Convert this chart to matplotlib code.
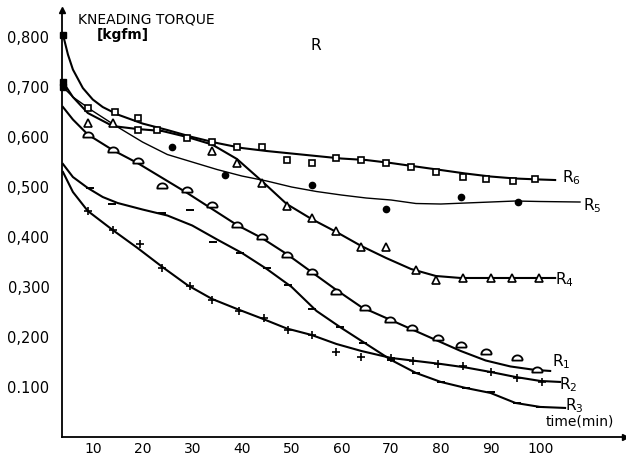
import numpy as np
import matplotlib
matplotlib.use("Agg")
import matplotlib.pyplot as plt

# torque curves (lines) and measured points (markers), time in min, torque in kgfm
r6_t = [4, 5, 6, 8, 10, 12, 15, 20, 25, 30, 35, 40, 45, 50, 55, 60, 65, 70, 75, 80, 85, 90, 95, 100, 103]
r6_v = [0.805, 0.765, 0.735, 0.698, 0.675, 0.66, 0.645, 0.627, 0.614, 0.60, 0.588, 0.578, 0.572, 0.567,
        0.562, 0.557, 0.554, 0.548, 0.541, 0.534, 0.527, 0.521, 0.517, 0.515, 0.514]
r6_pt_t = [9, 14.5, 19, 19, 23, 29, 34, 39, 44, 49, 54, 59, 64, 69, 74, 79, 84.5, 89, 94.5, 99]
r6_pt_v = [0.658, 0.65, 0.638, 0.614, 0.614, 0.598, 0.59, 0.58, 0.58, 0.554, 0.548, 0.558, 0.554,
           0.548, 0.54, 0.53, 0.52, 0.516, 0.512, 0.516]

r5_t = [4, 6, 10, 15, 20, 25, 30, 35, 40, 45, 50, 55, 60, 65, 70, 75, 80, 85, 90, 95, 100, 108]
r5_v = [0.70, 0.68, 0.652, 0.62, 0.59, 0.565, 0.55, 0.535, 0.522, 0.512, 0.50, 0.491, 0.484, 0.478,
        0.474, 0.467, 0.466, 0.468, 0.47, 0.472, 0.471, 0.47]
r5_pt_t = [26, 36.5, 54, 69, 84, 95.5]
r5_pt_v = [0.58, 0.524, 0.504, 0.457, 0.48, 0.47]

r4_t = [4, 6, 9, 14, 19, 24, 29, 34, 39, 44, 49, 54, 59, 64, 69, 74, 79, 84, 90, 95, 103]
r4_v = [0.71, 0.68, 0.648, 0.622, 0.616, 0.612, 0.60, 0.585, 0.556, 0.512, 0.466, 0.436, 0.41,
        0.382, 0.358, 0.336, 0.322, 0.318, 0.318, 0.318, 0.318]
r4_pt_t = [9, 14, 34, 39, 44, 49, 54, 59, 64, 69, 75, 79, 84.5, 90, 94.3, 99.8]
r4_pt_v = [0.628, 0.628, 0.572, 0.548, 0.508, 0.462, 0.438, 0.412, 0.38, 0.38, 0.334, 0.314,
           0.318, 0.318, 0.318, 0.318]

r1_t = [4, 6, 9, 14, 19, 24, 29, 34, 39, 44, 49, 54, 59, 64, 69, 74, 79, 84, 89, 94, 99, 102]
r1_v = [0.66, 0.635, 0.605, 0.574, 0.548, 0.518, 0.488, 0.456, 0.424, 0.398, 0.366, 0.33, 0.294,
        0.26, 0.238, 0.216, 0.194, 0.172, 0.153, 0.141, 0.134, 0.132]
r1_pt_t = [9, 14, 19, 24, 29, 34, 39, 44, 49, 54, 59, 64.7, 69.8, 74.3, 79.4, 84, 89, 95.3, 99.3]
r1_pt_v = [0.604, 0.574, 0.552, 0.502, 0.494, 0.464, 0.424, 0.40, 0.364, 0.33, 0.29, 0.258, 0.234,
           0.218, 0.198, 0.184, 0.17, 0.158, 0.134]

r2_t = [4, 6, 9, 14, 19, 24, 29, 34, 39, 44, 49, 54, 59, 64, 70, 75, 80, 85, 90, 95, 100, 104]
r2_v = [0.53, 0.49, 0.452, 0.414, 0.378, 0.34, 0.304, 0.276, 0.256, 0.237, 0.217, 0.204, 0.186,
        0.172, 0.158, 0.152, 0.146, 0.139, 0.13, 0.12, 0.112, 0.11]
r2_pt_t = [9, 14, 19.5, 24, 29.5, 34, 39.5, 44.5, 49.3, 54, 59, 64, 70, 74.4, 79.4, 84.5, 90, 95.3, 100.3]
r2_pt_v = [0.452, 0.414, 0.386, 0.338, 0.302, 0.274, 0.252, 0.238, 0.214, 0.204, 0.17, 0.16, 0.158,
           0.152, 0.146, 0.142, 0.13, 0.118, 0.11]

r3_t = [4, 6, 9, 12, 15, 20, 25, 30, 35, 40, 45, 50, 55, 60, 65, 70, 75, 80, 85, 90, 95, 100, 105]
r3_v = [0.546, 0.52, 0.498, 0.48, 0.468, 0.455, 0.443, 0.423, 0.395, 0.368, 0.336, 0.30, 0.252,
        0.218, 0.186, 0.154, 0.128, 0.11, 0.098, 0.088, 0.068, 0.06, 0.058]
r3_pt_t = [9.4, 13.8, 23.9, 29.5, 34.2, 39.6, 45, 49.3, 54, 59.7, 64.4, 70, 75, 80, 85, 90, 95.3, 100]
r3_pt_v = [0.498, 0.466, 0.448, 0.454, 0.39, 0.368, 0.338, 0.304, 0.256, 0.22, 0.188, 0.154, 0.128,
           0.11, 0.098, 0.09, 0.068, 0.06]

start_v = [0.805, 0.71, 0.70]

x_ticks = [10, 20, 30, 40, 50, 60, 70, 80, 90, 100]
y_ticks = [0.1, 0.2, 0.3, 0.4, 0.5, 0.6, 0.7, 0.8]
y_labels = ["0.100", "0,200", "0,300", "0,400", "0,500", "0,600", "0,700", "0,800"]

# dome shaped marker used for R1
theta = np.linspace(0, np.pi, 15)
dome = [(np.cos(a), -0.4 + np.sin(a)) for a in theta] + [(1.0, -0.4)]

fig = plt.figure(figsize=(6.26, 4.58), dpi=100)
ax = fig.add_axes([0.099, 0.046, 0.899, 0.932])

lw = 1.5
ax.plot(r6_t, r6_v, color="black", lw=lw)
ax.plot(r5_t, r5_v, color="black", lw=1.0)
ax.plot(r4_t, r4_v, color="black", lw=lw)
ax.plot(r1_t, r1_v, color="black", lw=lw)
ax.plot(r2_t, r2_v, color="black", lw=lw)
ax.plot(r3_t, r3_v, color="black", lw=lw)

ax.plot(r6_pt_t, r6_pt_v, ls="none", marker="s", ms=5, mfc="white", mec="black", mew=1.2)
ax.plot(r5_pt_t, r5_pt_v, ls="none", marker="o", ms=4.5, mfc="black", mec="black")
ax.plot(r4_pt_t, r4_pt_v, ls="none", marker="^", ms=6, mfc="white", mec="black", mew=1.2)
ax.plot(r1_pt_t, r1_pt_v, ls="none", marker=dome, ms=7.5, mfc="white", mec="black", mew=1.3)
ax.plot(r2_pt_t, r2_pt_v, ls="none", marker="+", ms=6, color="black", mew=1.2)
ax.plot(r3_pt_t, r3_pt_v, ls="none", marker="_", ms=6, color="black", mew=1.4)
ax.plot([4] * len(start_v), start_v, ls="none", marker="s", ms=4.5, color="black", clip_on=False)

ax.set_xlim(3.8, 117)
ax.set_ylim(0, 0.854)
for side in ["top", "right"]:
    ax.spines[side].set_visible(False)
for side in ["left", "bottom"]:
    ax.spines[side].set_linewidth(1.3)
ax.plot(0, 1, marker="^", ms=5, color="black", transform=ax.transAxes, clip_on=False)
ax.plot(1, 0, marker=">", ms=4, color="black", transform=ax.transAxes, clip_on=False)

ax.set_xticks(x_ticks)
ax.set_xticklabels([str(v) for v in x_ticks], fontsize=10)
ax.set_yticks(y_ticks)
ax.set_yticklabels(y_labels, fontsize=10.5)
ax.tick_params(axis="x", length=0, pad=4)
ax.tick_params(axis="y", length=0, pad=9)

ax.text(7, 0.836, "KNEADING TORQUE", fontsize=10, va="center")
ax.text(10.8, 0.804, "[kgfm]", fontsize=10, va="center", fontweight="bold")
ax.text(53.7, 0.784, "R", fontsize=11, va="center")
ax.text(101, 0.03, "time(min)", fontsize=10, va="center")

labels = [("R$_\\mathregular{6}$", 104.4, 0.518), ("R$_\\mathregular{5}$", 108.6, 0.462),
          ("R$_\\mathregular{4}$", 103, 0.314), ("R$_\\mathregular{1}$", 102.4, 0.150),
          ("R$_\\mathregular{2}$", 103.8, 0.104), ("R$_\\mathregular{3}$", 105, 0.062)]
for txt, x, y in labels:
    ax.text(x, y, txt, fontsize=11, va="center")

fig.savefig("out.png", dpi=100)
